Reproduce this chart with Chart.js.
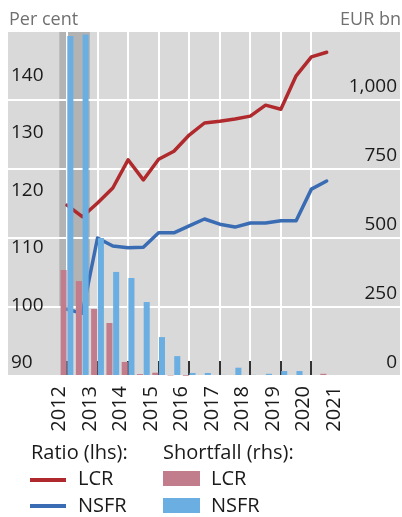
<!DOCTYPE html>
<html>
<head>
<meta charset="utf-8">
<script src="https://cdn.jsdelivr.net/npm/chart.js@4"></script>
<style>
  body { margin: 0; background: #fff; font-family: "Open Sans", sans-serif; }
  #wrap { position: relative; width: 402px; height: 517px; overflow: hidden; }
  #chart { position: absolute; left: 0; top: 0; }
  .txt { position: absolute; line-height: 1; white-space: nowrap; }
  .unit { font-size: 18px; color: #707070; top: 9px; }
  .leg { font-size: 20px; color: #1a1a1a; }
  .sw { position: absolute; }
</style>
</head>
<body>
<div id="wrap">
  <canvas id="chart" width="402" height="517"></canvas>
  <div class="txt unit" style="left:9px">Per cent</div>
  <div class="txt unit" style="right:1px">EUR bn</div>

  <div class="txt leg" style="left:31px;top:442px">Ratio (lhs):</div>
  <div class="sw" style="left:30px;top:478px;width:36px;height:4px;background:#b0292c"></div>
  <div class="txt leg" style="left:78px;top:468px">LCR</div>
  <div class="sw" style="left:30px;top:504px;width:36px;height:4px;background:#3a6cb4"></div>
  <div class="txt leg" style="left:78px;top:495px">NSFR</div>

  <div class="txt leg" style="left:163px;top:442px">Shortfall (rhs):</div>
  <div class="sw" style="left:163px;top:471px;width:37px;height:15px;background:#c27d8c"></div>
  <div class="txt leg" style="left:211px;top:468px">LCR</div>
  <div class="sw" style="left:163px;top:498px;width:37px;height:15px;background:#6baee1"></div>
  <div class="txt leg" style="left:211px;top:495px">NSFR</div>
</div>

<script>
// half-yearly observations
const periods = [
  "2012 H1", "2012 H2", "2013 H1", "2013 H2", "2014 H1", "2014 H2",
  "2015 H1", "2015 H2", "2016 H1", "2016 H2", "2017 H1", "2017 H2",
  "2018 H1", "2018 H2", "2019 H1", "2019 H2", "2020 H1", "2020 H2"
];
// ratios, per cent (lhs)
const lcrRatio = [119.7, 117.7, 120.1, 122.7, 127.6, 124.1, 127.7, 129.1, 131.9,
  134.0, 134.3, 134.7, 135.2, 137.1, 136.4, 142.2, 145.5, 146.3];
const nsfrRatio = [101.6, 100.9, 114.0, 112.6, 112.3, 112.4, 114.9, 114.9, 116.1,
  117.3, 116.4, 115.9, 116.6, 116.6, 117.0, 117.0, 122.5, 123.9];
// shortfalls, EUR bn (rhs)
const lcrShortfall = [384, 344, 243, 192, 51, 7, 12, 2, 1, 0, 0, 0, 0, 0, 0, 0, 0, 8];
const nsfrShortfall = [1232, 1237, 500, 377, 355, 268, 141, 72, 11, 11, 4, 30, 4, 8, 18, 18, 0, 0];

const years = [2012, 2013, 2014, 2015, 2016, 2017, 2018, 2019, 2020, 2021];

// shaded period
const shadeFrom = 2012, shadeTo = 2013, shadeFloor = 250;

const FONT = "Open Sans";
const INK = "#1a1a1a";

function periodX(p) {
  const [yr, h] = p.split(" ");
  return Number(yr) + (h === "H1" ? 0.25 : 0.75);
}
function points(vals) {
  return periods.map((p, i) => ({ x: periodX(p), y: vals[i] }));
}
function isHalf(ctx) {
  return ctx.tick && !Number.isInteger(ctx.tick.value);
}

const backdrop = {
  id: "backdrop",
  beforeDraw(chart) {
    const { ctx, chartArea: a, scales } = chart;
    ctx.save();
    ctx.fillStyle = "#d9d9d9";
    ctx.fillRect(a.left, a.top, a.width, a.height);
    const x0 = scales.x.getPixelForValue(shadeFrom);
    const x1 = scales.x.getPixelForValue(shadeTo);
    const yb = scales.y2.getPixelForValue(shadeFloor);
    ctx.fillStyle = "#b3b3b3";
    ctx.fillRect(x0, a.top, x1 - x0, yb - a.top);
    ctx.restore();
  }
};

function noPad(s) {
  s.paddingLeft = 0; s.paddingRight = 0;
  s.paddingTop = 0; s.paddingBottom = 0;
}

// bars sit on top of the lines (lower order is drawn last)
new Chart(document.getElementById("chart"), {
  type: "line",
  data: {
    datasets: [
      { type: "line", label: "LCR", data: points(lcrRatio), yAxisID: "y", order: 1,
        borderColor: "#b0292c", borderWidth: 3.5, pointRadius: 0, tension: 0,
        borderJoinStyle: "round", borderCapStyle: "round" },
      { type: "line", label: "NSFR", data: points(nsfrRatio), yAxisID: "y", order: 1,
        borderColor: "#3a6cb4", borderWidth: 3.5, pointRadius: 0, tension: 0,
        borderJoinStyle: "round", borderCapStyle: "round" },
      { type: "bar", label: "LCR shortfall", data: points(lcrShortfall), yAxisID: "y2", order: 0,
        backgroundColor: "#c27d8c", categoryPercentage: 0.88, barPercentage: 0.9 },
      { type: "bar", label: "NSFR shortfall", data: points(nsfrShortfall), yAxisID: "y2", order: 0,
        backgroundColor: "#6baee1", categoryPercentage: 0.88, barPercentage: 0.9 }
    ]
  },
  options: {
    responsive: false,
    animation: false,
    devicePixelRatio: 1,
    layout: { padding: { left: 8, right: 2, top: 31, bottom: 81 } },
    plugins: { legend: { display: false }, tooltip: { enabled: false } },
    scales: {
      x: {
        type: "linear",
        min: 2010.32,
        max: 2023.15,
        offset: false,
        afterBuildTicks(s) {
          s.ticks = years.flatMap(y => (y < 2021 ? [y, y + 0.5] : [y])).map(v => ({ value: v }));
        },
        afterFit(s) { s.height = 60; noPad(s); },
        border: { display: false },
        grid: {
          color: c => (isHalf(c) ? "#ffffff" : "rgba(0,0,0,0)"),
          lineWidth: 2,
          tickColor: c => (isHalf(c) ? "#333333" : "rgba(0,0,0,0)"),
          tickLength: -15,
          tickWidth: 2
        },
        ticks: {
          autoSkip: false,
          minRotation: 90,
          maxRotation: 90,
          padding: 25,
          color: INK,
          font: { family: FONT, size: 20 },
          callback: v => (Number.isInteger(v) ? String(v) : "")
        }
      },
      y: {
        position: "left",
        min: 90,
        max: 150,
        afterFit(s) { s.width = 0; noPad(s); },
        border: { display: false },
        grid: { display: false, drawTicks: false },
        ticks: {
          stepSize: 10,
          mirror: true,
          padding: 3,
          labelOffset: -13,
          color: INK,
          font: { family: FONT, size: 19 },
          callback: v => (v >= 150 ? "" : String(v))
        }
      },
      y2: {
        position: "right",
        min: 0,
        max: 1250,
        afterFit(s) { s.width = 0; noPad(s); },
        border: { display: false },
        grid: { color: "#ffffff", lineWidth: 2, drawTicks: false },
        ticks: {
          stepSize: 250,
          mirror: true,
          padding: -3,
          labelOffset: -13,
          color: INK,
          font: { family: FONT, size: 19 },
          callback: v => (v >= 1250 ? "" : v.toLocaleString("en-US"))
        }
      }
    }
  },
  plugins: [backdrop]
});
</script>
</body>
</html>
